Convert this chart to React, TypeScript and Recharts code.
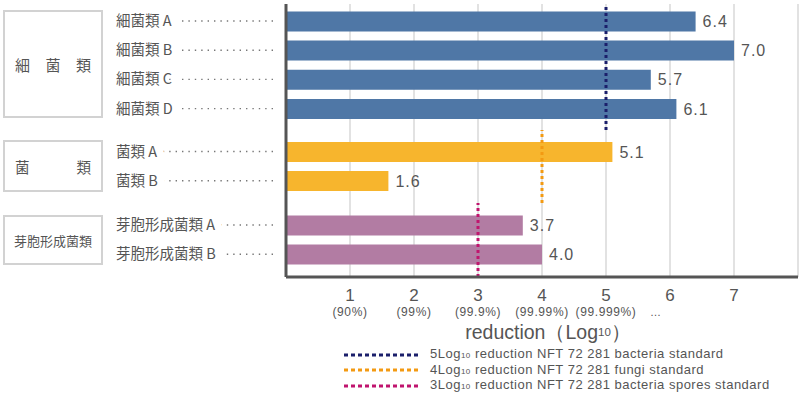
import React from "react";
import { BarChart, Bar, XAxis, YAxis, CartesianGrid, ReferenceLine, LabelList } from "recharts";

const bacteriaNames = ["細菌類 A", "細菌類 B", "細菌類 C", "細菌類 D"];
const bacteriaValues = [6.4, 7.0, 5.7, 6.1];
const fungiNames = ["菌類 A", "菌類 B"];
const fungiValues = [5.1, 1.6];
const sporeNames = ["芽胞形成菌類 A", "芽胞形成菌類 B"];
const sporeValues = [3.7, 4.0];

const xTicks = [1, 2, 3, 4, 5, 6, 7];
const tickPercents = ["(90%)", "(99%)", "(99.9%)", "(99.99%)", "(99.999%)…", "", ""];

const standards = [5, 4, 3];
const standardColors = ["#1b1f6b", "#f39a12", "#c0146e"];
const legendTexts = [
  ["5Log", "10", " reduction NFT 72 281 bacteria standard"],
  ["4Log", "10", " reduction NFT 72 281 fungi standard"],
  ["3Log", "10", " reduction NFT 72 281 bacteria spores standard"],
];

const FONT = '"Noto Sans CJK JP", "Noto Sans", sans-serif';
const LATIN = '"Liberation Sans", Arial, sans-serif';
const TEXT = "#555";
const AXIS = "#555";
const GRID = "#e2e2e2";

const toRows = (names: string[], values: number[]) => names.map((name, i) => ({ name, value: values[i] }));

function RowTick(props: any) {
  const { y, payload } = props;
  return (
    <g>
      <line x1={118} x2={277} y1={y} y2={y} stroke="#777" strokeWidth={1.4} strokeDasharray="1.4 5" />
      <text
        x={116}
        y={y}
        dy={5}
        fontSize={14.5}
        fill={TEXT}
        stroke="#fff"
        strokeWidth={16}
        strokeLinejoin="round"
        style={{ paintOrder: "stroke" }}
      >
        {payload.value}
      </text>
    </g>
  );
}

function XTick(props: any) {
  const { x, y, payload } = props;
  const pct = tickPercents[xTicks.indexOf(payload.value)] || "";
  const dots = pct.endsWith("…");
  const core = dots ? pct.slice(0, -1) : pct;
  return (
    <g fill={TEXT} fontFamily={LATIN}>
      <text x={x} y={y + 16} textAnchor="middle" fontSize={17}>
        {payload.value}
      </text>
      {core ? (
        <text x={x} y={y + 31} textAnchor="middle" fontSize={12} letterSpacing={0.6}>
          {core}
        </text>
      ) : null}
      {dots ? (
        <text x={x + 44} y={y + 31} fontSize={11}>
          …
        </text>
      ) : null}
    </g>
  );
}

function AxisTitle(props: any) {
  const { viewBox } = props;
  const cx = viewBox.x + viewBox.width / 2 + 6;
  return (
    <text x={cx} y={viewBox.y + 62} textAnchor="middle" fontSize={19.5} fill={TEXT} fontFamily={LATIN}>
      reduction（Log
      <tspan fontSize={11.5} dy={-3}>10</tspan>
      <tspan dy={3}>）</tspan>
    </text>
  );
}

function Group({
  data,
  color,
  standard,
  standardColor,
  height,
  pad,
  top,
  last,
}: {
  data: { name: string; value: number }[];
  color: string;
  standard: number;
  standardColor: string;
  height: number;
  pad: { top: number; bottom: number };
  top: number;
  last?: boolean;
}) {
  return (
    <div style={{ position: "absolute", left: 0, top }}>
      <BarChart
        width={800}
        height={height}
        data={data}
        layout="vertical"
        margin={{ top: 0, right: 2, bottom: 0, left: 0 }}
        barSize={20}
        style={{ fontFamily: FONT }}
      >
        <CartesianGrid horizontal={false} stroke={GRID} strokeWidth={2} />
        <XAxis
          type="number"
          domain={[0, 8]}
          ticks={xTicks}
          hide={!last}
          height={last ? 70 : 0}
          axisLine={{ stroke: AXIS, strokeWidth: 3 }}
          tickLine={false}
          tick={<XTick />}
          label={last ? <AxisTitle /> : undefined}
        />
        <YAxis
          type="category"
          dataKey="name"
          width={286}
          padding={pad}
          axisLine={{ stroke: AXIS, strokeWidth: 3 }}
          tickLine={false}
          tick={<RowTick />}
          interval={0}
        />
        <Bar dataKey="value" fill={color} isAnimationActive={false}>
          <LabelList
            dataKey="value"
            position="right"
            offset={7}
            fontSize={16}
            fontFamily={LATIN}
            fill={TEXT}
            letterSpacing={1}
            formatter={(v: any) => Number(v).toFixed(1)}
          />
        </Bar>
        <ReferenceLine x={standard} stroke={standardColor} strokeWidth={3} strokeDasharray="3 3" />
      </BarChart>
    </div>
  );
}

const boxStyle: React.CSSProperties = {
  position: "absolute",
  left: 3,
  width: 100,
  border: "2px solid #d2d2d2",
  display: "flex",
  alignItems: "center",
  justifyContent: "space-between",
  padding: "0 10px",
  boxSizing: "border-box",
  color: TEXT,
  fontFamily: FONT,
};

export default function App() {
  return (
    <div style={{ position: "absolute", left: 0, top: 0, width: 800, height: 398, background: "#fff", fontFamily: FONT }}>
      <div style={{ ...boxStyle, top: 10, height: 108, fontSize: 15 }}>
        <span>細</span>
        <span>菌</span>
        <span>類</span>
      </div>
      <div style={{ ...boxStyle, top: 140, height: 52, fontSize: 14.5 }}>
        <span>菌</span>
        <span>類</span>
      </div>
      <div style={{ ...boxStyle, top: 215, height: 50, fontSize: 13, justifyContent: "center", padding: 0 }}>
        <span>芽胞形成菌類</span>
      </div>

      <Group
        data={toRows(bacteriaNames, bacteriaValues)}
        color="#4f77a6"
        standard={standards[0]}
        standardColor={standardColors[0]}
        height={126}
        pad={{ top: 2.4, bottom: 6.8 }}
        top={4}
      />
      <Group
        data={toRows(fungiNames, fungiValues)}
        color="#f7b52d"
        standard={standards[1]}
        standardColor={standardColors[1]}
        height={73}
        pad={{ top: 6.9, bottom: 7.7 }}
        top={130}
      />
      <Group
        data={toRows(sporeNames, sporeValues)}
        color="#b27ca3"
        standard={standards[2]}
        standardColor={standardColors[2]}
        height={144}
        pad={{ top: 7.4, bottom: 8.2 }}
        top={203}
        last
      />

      <div style={{ position: "absolute", left: 343, top: 347, fontSize: 13, letterSpacing: 0.5, fontFamily: LATIN, color: TEXT, lineHeight: "15.5px" }}>
        {legendTexts.map((t, i) => (
          <div key={i} style={{ display: "flex", alignItems: "center", height: 15.5 }}>
            <svg width={87} height={6}>
              <line x1={1} x2={76} y1={3} y2={3} stroke={standardColors[i]} strokeWidth={3} strokeDasharray="4 3" />
            </svg>
            <span>
              {t[0]}
              <span style={{ fontSize: 8 }}>{t[1]}</span>
              {t[2]}
            </span>
          </div>
        ))}
      </div>
    </div>
  );
}
